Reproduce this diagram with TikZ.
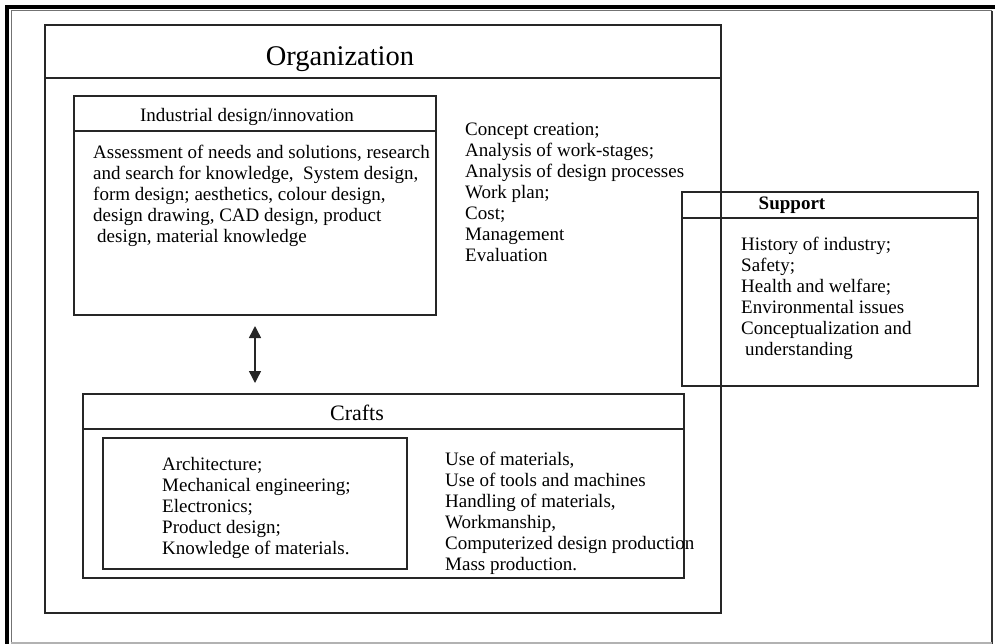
\documentclass[tikz,border=0pt]{standalone}
\usepackage{fontspec}
\setmainfont{Liberation Serif}
\usetikzlibrary{arrows.meta}
\begin{document}
\begin{tikzpicture}[x=1pt,y=-1pt,
  box/.style={draw=black!85,line width=1.3pt,inner sep=0pt,outer sep=0pt,anchor=north west},
  txt/.style={anchor=north west,inner sep=0pt,align=left,font=\fontsize{19}{21}\selectfont},
  ttl/.style={inner sep=0pt,anchor=center},
  arr/.style={{Triangle[width=12pt,length=12pt]}-{Triangle[width=12pt,length=12pt]},line width=1.4pt,black!85}]
\useasboundingbox (0,0) rectangle (995,644);
% page frame
\draw[line width=4pt] (7,644) -- (7,7) -- (995,7);
\draw[line width=1pt,black!55] (11,644) -- (11,11) -- (992,11);
\draw[line width=1.6pt,black!80] (992,11) -- (992,644);
\draw[line width=1.2pt,black!30] (11,643) -- (992,643);
% boxes
\node[box,minimum width=676pt,minimum height=588pt] (org) at (45,25) {};
\draw[black!85,line width=1.3pt] ([yshift=-53pt]org.north west) -- ([yshift=-53pt]org.north east);
\node[box,minimum width=362pt,minimum height=219pt] (ind) at (74,96) {};
\draw[black!85,line width=1.3pt] ([yshift=-35pt]ind.north west) -- ([yshift=-35pt]ind.north east);
\node[box,minimum width=296pt,minimum height=194pt] (sup) at (682,192) {};
\draw[black!85,line width=1.3pt] ([yshift=-26pt]sup.north west) -- ([yshift=-26pt]sup.north east);
\node[box,minimum width=601pt,minimum height=184pt] (crafts) at (83,394) {};
\draw[black!85,line width=1.3pt] ([yshift=-35pt]crafts.north west) -- ([yshift=-35pt]crafts.north east);
\node[box,minimum width=304pt,minimum height=131pt] (inner) at (103,438) {};
% titles
\node[ttl,font=\fontsize{28.5}{30}\selectfont] (orgt) at (340,59) {Organization};
\node[ttl,font=\fontsize{19}{21}\selectfont] (indt) at (247,117) {Industrial design/innovation};
\node[ttl,font=\fontsize{22}{24}\selectfont] (craftst) at (357,413) {Crafts};
\node[ttl,font=\fontsize{19}{21}\selectfont\bfseries] (supt) at (792,205) {Support};
% texts
\node[txt] (indx) at (93,145) {Assessment of needs and solutions, research\\
and search for knowledge,\ \ System design,\\
form design; aesthetics, colour design,\\
design drawing, CAD design, product\\
\hspace{4pt}design, material knowledge};
\node[txt] (orgx) at (465,123) {Concept creation;\\
Analysis of work-stages;\\
Analysis of design processes\\
Work plan;\\
Cost;\\
Management\\
Evaluation};
\node[txt] (supx) at (741,237) {History of industry;\\
Safety;\\
Health and welfare;\\
Environmental issues\\
Conceptualization and\\
\hspace{4pt}understanding};
\node[txt] (innx) at (162,457) {Architecture;\\
Mechanical engineering;\\
Electronics;\\
Product design;\\
Knowledge of materials.};
\node[txt] (craftsx) at (445,452) {Use of materials,\\
Use of tools and machines\\
Handling of materials,\\
Workmanship,\\
Computerized design production\\
Mass production.};
% arrow
\coordinate (ax) at (255,0);
\draw[arr,shorten <=11pt,shorten >=11pt] (ind.south -| ax) -- (crafts.north -| ax);
\end{tikzpicture}
\end{document}
